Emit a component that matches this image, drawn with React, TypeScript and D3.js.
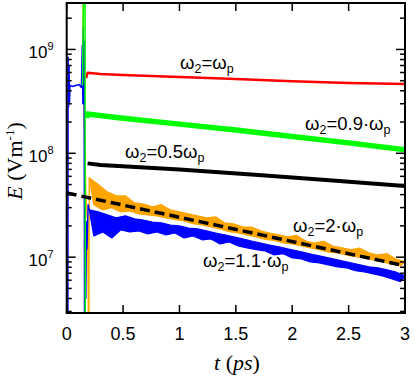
import React from 'react';
import * as d3 from 'd3';

// axis ticks
const xTickValues = [0, 0.5, 1, 1.5, 2, 2.5, 3];
const xTickLabels = ['0', '0.5', '1', '1.5', '2', '2.5', '3'];
const yDecades = [1e7, 1e8, 1e9];
const yDecadeExp = ['7', '8', '9'];

// w2 = wp (red)
const redT = [0.172, 0.185, 0.3, 0.5, 1.0, 1.5, 2.0, 2.5, 3.0];
const redE = [5.3e8, 5.95e8, 5.8e8, 5.66e8, 5.42e8, 5.18e8, 4.95e8, 4.74e8, 4.64e8];

// w2 = 0.9 wp (green): the spike of the pump, then the slow decay
const greenSpikeT = [0.14, 0.15, 0.163, 0.165];
const greenSpikeE = [4.5e8, 4e9, 4e9, 1e6];
const greenT = [0.172, 0.18, 0.5, 1.0, 1.5, 2.0, 2.5, 3.0];
const greenE = [2.2e8, 2.39e8, 2.18e8, 1.91e8, 1.68e8, 1.45e8, 1.26e8, 1.08e8];

// w2 = 0.5 wp (black)
const blackT = [0.185, 0.3, 1.0, 1.7, 2.3, 3.0];
const blackE = [8.0e7, 7.73e7, 6.99e7, 6.18e7, 5.53e7, 4.85e7];

// time samples of the two noisy series (peaks and troughs alternate)
const noisyT = [
  0.2, 0.24, 0.28, 0.32, 0.36, 0.4, 0.44, 0.48, 0.52, 0.56, 0.6, 0.64, 0.68, 0.72, 0.76, 0.8,
  0.84, 0.88, 0.92, 0.96, 1.0, 1.04, 1.08, 1.12, 1.16, 1.2, 1.24, 1.28, 1.32, 1.36, 1.4, 1.44,
  1.48, 1.52, 1.56, 1.6, 1.64, 1.68, 1.72, 1.76, 1.8, 1.84, 1.88, 1.92, 1.96, 2.0, 2.04, 2.08,
  2.12, 2.16, 2.2, 2.24, 2.28, 2.32, 2.36, 2.4, 2.44, 2.48, 2.52, 2.56, 2.6, 2.64, 2.68, 2.72,
  2.76, 2.8, 2.84, 2.88, 2.92, 2.96, 3.0,
];

// w2 = 2 wp (orange)
const orangeStartT = [0.14, 0.148, 0.155, 0.17, 0.185, 0.196, 0.2];
const orangeStartE = [5e8, 4e9, 2e8, 4e7, 2.2e7, 1e6, 5.8e7];
const orangeE = [
  5.8e7, 3.2e7, 5.0e7, 2.85e7, 4.25e7, 3.0e7, 3.9e7, 2.73e7, 3.9e7, 2.79e7, 3.33e7, 2.61e7,
  3.25e7, 2.55e7, 3.05e7, 2.5e7, 3.2e7, 2.39e7, 2.85e7, 2.3e7, 2.73e7, 2.23e7, 2.61e7, 2.1e7,
  2.5e7, 2.04e7, 2.39e7, 1.96e7, 2.45e7, 1.87e7, 2.14e7, 1.76e7, 2.09e7, 1.71e7, 1.96e7, 1.64e7,
  1.95e7, 1.57e7, 1.79e7, 1.48e7, 1.71e7, 1.45e7, 1.64e7, 1.37e7, 1.57e7, 1.34e7, 1.62e7, 1.28e7,
  1.43e7, 1.23e7, 1.37e7, 1.18e7, 1.42e7, 1.12e7, 1.28e7, 1.1e7, 1.23e7, 1.05e7, 1.18e7, 1.01e7,
  1.22e7, 9.85e6, 1.1e7, 9.42e6, 1.05e7, 9.0e6, 1.08e7, 8.6e6, 9.6e6, 8.25e6, 9.0e6,
];

// w2 = 1.1 wp (blue), with the initial pulse
const blueStartT = [
  0, 0.011, 0.013, 0.017, 0.021, 0.025, 0.03, 0.05, 0.08, 0.11, 0.13, 0.138, 0.143, 0.147,
  0.151, 0.154, 0.158, 0.165, 0.17, 0.175, 0.18, 0.19, 0.2,
];
const blueStartE = [
  1e6, 1e6, 8.4e8, 2.8e8, 7e8, 3e8, 4.5e8, 4.4e8, 4.5e8, 4.6e8, 4.3e8, 1.1e9, 3e8, 1.65e9,
  6e8, 1.2e9, 1.5e6, 3e7, 4e6, 2.2e7, 1.2e7, 3.2e7, 2.85e7,
];
const blueE = [
  2.85e7, 1.6e7, 2.73e7, 1.75e7, 2.55e7, 1.53e7, 2.39e7, 1.83e7, 2.5e7, 1.75e7, 2.34e7, 1.79e7,
  2.28e7, 1.67e7, 2.18e7, 1.75e7, 2.14e7, 1.64e7, 2.04e7, 1.71e7, 2.0e7, 1.53e7, 1.91e7, 1.6e7,
  1.87e7, 1.47e7, 1.79e7, 1.5e7, 1.71e7, 1.34e7, 1.64e7, 1.4e7, 1.57e7, 1.28e7, 1.5e7, 1.23e7,
  1.43e7, 1.18e7, 1.37e7, 1.15e7, 1.31e7, 1.05e7, 1.26e7, 1.08e7, 1.2e7, 9.85e6, 1.15e7, 9.63e6,
  1.1e7, 9.0e6, 1.05e7, 8.8e6, 1.01e7, 8.44e6, 9.63e6, 8.07e6, 9.2e6, 7.9e6, 8.8e6, 7.4e6,
  8.44e6, 7.2e6, 8.07e6, 6.9e6, 7.9e6, 6.6e6, 7.55e6, 6.2e6, 7.2e6, 5.8e6, 6.6e6,
];

// exponential fit (dashed)
const fitT = [0, 3];
const fitE = [4.15e7, 8.25e6];

const W = 415;
const H = 380;
const left = 66.7;
const right = 405;
const top = 3;
const bottom = 313;

const sans = 'Liberation Sans, Arial, sans-serif';
const serif = 'Liberation Serif, Times New Roman, serif';

type Pt = [number, number];
const zip = (t: number[], e: number[]) => t.map((v, i) => [v, e[i]] as Pt);

// peaks forward, troughs backward: the noisy trace as a filled band
const band = (t: number[], e: number[]) => {
  const pts = zip(t, e);
  const hi = pts.filter((_, i) => i % 2 === 0);
  const lo = pts.filter((_, i) => i % 2 === 1);
  return hi.concat(lo.reverse());
};

const OmegaLabel = ({ x, y, mid }: { x: number; y: number; mid: string }) => (
  <text x={x} y={y} fontSize={18.5} fontFamily={sans} fill="#000">
    ω<tspan dy={4} fontSize={12.5}>2</tspan>
    <tspan dy={-4}>={mid}ω</tspan>
    <tspan dy={4} fontSize={12.5}>p</tspan>
  </text>
);

export default function App() {
  const x = d3.scaleLinear().domain([0, 3]).range([left, right]);
  const y = d3.scaleLog().domain([2.9e6, 2.8e9]).range([bottom, top]);
  const line = d3
    .line<Pt>()
    .x((d) => x(d[0]))
    .y((d) => y(d[1]));

  const minor: number[] = [];
  [1e6, 1e7, 1e8, 1e9].forEach((d) => {
    for (let k = 2; k <= 9; k++) {
      const v = k * d;
      if (v > 2.9e6 && v < 2.8e9) minor.push(v);
    }
  });

  return (
    <svg
      width={W}
      height={H}
      style={{ position: 'absolute', left: 0, top: 0, background: '#fff' }}
    >
      <defs>
        <clipPath id="plot">
          <rect x={left} y={top} width={right - left} height={bottom - top} />
        </clipPath>
      </defs>

      <g clipPath="url(#plot)" fill="none" strokeLinejoin="round">
        <path d={line(zip(redT, redE)) || ''} stroke="#ff0000" strokeWidth={2.5} />
        <path d={line(zip(greenT, greenE)) || ''} stroke="#00ff00" strokeWidth={5.5} />
        <path d={line(zip(blackT, blackE)) || ''} stroke="#000" strokeWidth={4} />

        <path d={line(zip(orangeStartT, orangeStartE)) || ''} stroke="#ffa500" strokeWidth={1.4} />
        <path
          d={(line(band(noisyT, orangeE)) || '') + 'Z'}
          fill="#ffa500"
          stroke="#ffa500"
          strokeWidth={1.2}
        />
        <path d={line(zip(blueStartT, blueStartE)) || ''} stroke="#0000ff" strokeWidth={1.4} />
        <path d={line(zip(greenSpikeT, greenSpikeE)) || ''} stroke="#00ff00" strokeWidth={1.5} />
        <path
          d={(line(band(noisyT, blueE)) || '') + 'Z'}
          fill="#0000ff"
          stroke="#0000ff"
          strokeWidth={1.2}
        />

        <path
          d={line(zip(fitT, fitE)) || ''}
          stroke="#000"
          strokeWidth={3.5}
          strokeDasharray="10,5"
        />
      </g>

      {/* ticks on all four sides */}
      <g stroke="#000" strokeWidth={1.5}>
        {xTickValues.map((t) => (
          <g key={t}>
            <line x1={x(t)} x2={x(t)} y1={bottom} y2={bottom - 8} />
            <line x1={x(t)} x2={x(t)} y1={top} y2={top + 8} />
          </g>
        ))}
        {yDecades.map((v) => (
          <g key={v}>
            <line x1={left} x2={left + 9} y1={y(v)} y2={y(v)} />
            <line x1={right} x2={right - 9} y1={y(v)} y2={y(v)} />
          </g>
        ))}
        {minor.map((v) => (
          <g key={v}>
            <line x1={left} x2={left + 5} y1={y(v)} y2={y(v)} />
            <line x1={right} x2={right - 5} y1={y(v)} y2={y(v)} />
          </g>
        ))}
      </g>

      <rect
        x={left}
        y={top}
        width={right - left}
        height={bottom - top}
        fill="none"
        stroke="#000"
        strokeWidth={2}
      />

      {xTickValues.map((t, i) => (
        <text key={t} x={x(t)} y={340} textAnchor="middle" fontSize={18} fontFamily={sans}>
          {xTickLabels[i]}
        </text>
      ))}
      {yDecades.map((v, i) => (
        <text key={v} x={53.5} y={y(v) + 9} textAnchor="end" fontSize={17} fontFamily={sans}>
          10<tspan dy={-8} fontSize={11}>{yDecadeExp[i]}</tspan>
        </text>
      ))}

      <text x={237} y={370} textAnchor="middle" fontSize={22} fontFamily={serif}>
        <tspan fontStyle="italic">t</tspan> (<tspan fontStyle="italic">ps</tspan>)
      </text>
      <text
        transform="translate(22,161) rotate(-90)"
        textAnchor="middle"
        fontSize={22}
        fontFamily={serif}
      >
        <tspan fontStyle="italic">E</tspan> (Vm<tspan dy={-8} fontSize={13}>-1</tspan>
        <tspan dy={8}>)</tspan>
      </text>

      <OmegaLabel x={180} y={69} mid="" />
      <OmegaLabel x={305} y={130} mid="0.9·" />
      <OmegaLabel x={125} y={158} mid="0.5" />
      <OmegaLabel x={293} y={232} mid="2·" />
      <OmegaLabel x={203} y={266.5} mid="1.1·" />
    </svg>
  );
}
